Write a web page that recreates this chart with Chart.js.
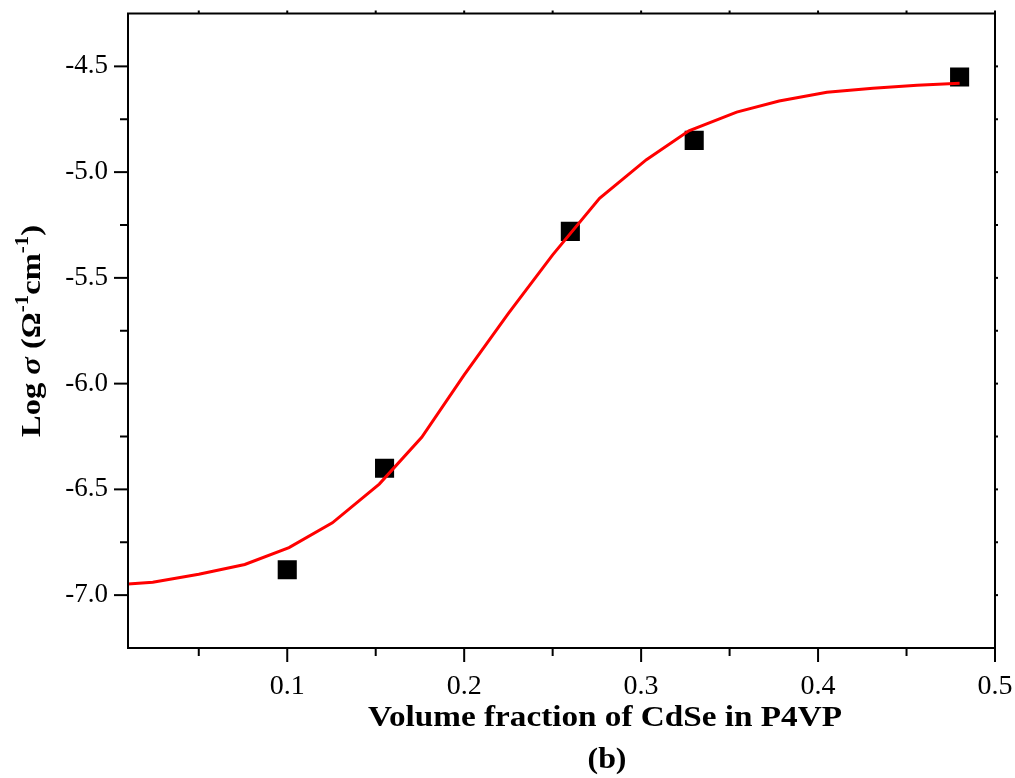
<!DOCTYPE html>
<html lang="en">
<head>
    <meta charset="UTF-8">
    <title>Log conductivity vs CdSe volume fraction</title>
    <style>
        body { margin: 0; background: #fff; }
    </style>
</head>
<body>
    <canvas id="myChart" width="1015" height="778"></canvas>
    <script src="https://cdn.jsdelivr.net/npm/chart.js"></script>
    <script>
        // measured points
        const fracX = [0.1, 0.155, 0.26, 0.33, 0.48];
        const logSigma = [-6.88, -6.40, -5.28, -4.85, -4.55];

        // fitted curve
        const fitX = [0.01, 0.024, 0.05, 0.076, 0.101, 0.1255, 0.152, 0.176, 0.2, 0.225, 0.25, 0.2765,
                      0.303, 0.327, 0.354, 0.378, 0.405, 0.431, 0.456, 0.48];
        const fitY = [-6.948, -6.939, -6.901, -6.855, -6.775, -6.658, -6.475, -6.254, -5.959, -5.668, -5.391, -5.124,
                      -4.941, -4.805, -4.716, -4.664, -4.622, -4.603, -4.589, -4.580];

        const xTicks = [0.1, 0.2, 0.3, 0.4, 0.5];
        const xMinor = [0.05, 0.15, 0.25, 0.35, 0.45];
        const yTicks = [-7.0, -6.5, -6.0, -5.5, -5.0, -4.5];
        const yMinor = [-6.75, -6.25, -5.75, -5.25, -4.75];

        const serif = '"Liberation Serif", "Times New Roman", serif';

        function seg(ctx, x1, y1, x2, y2) {
            ctx.beginPath();
            ctx.moveTo(x1, y1);
            ctx.lineTo(x2, y2);
            ctx.stroke();
        }

        // draw a run of text pieces centred on (cx, cy), stretched to a given width
        function textRun(ctx, parts, cx, cy, width, angle) {
            let total = 0;
            parts.forEach(p => { ctx.font = p.f; p.w = ctx.measureText(p.t).width; total += p.w; });
            ctx.save();
            ctx.translate(cx, cy);
            ctx.rotate(angle);
            ctx.scale(width / total, 1);
            ctx.textAlign = 'left';
            ctx.textBaseline = 'alphabetic';
            let x = -total / 2;
            parts.forEach(p => {
                ctx.font = p.f;
                ctx.fillText(p.t, x, p.dy || 0);
                x += p.w;
            });
            ctx.restore();
        }

        // box, tick marks and titles
        const frame = {
            id: 'frame',
            afterDraw(chart) {
                const ctx = chart.ctx;
                const a = chart.chartArea;
                const x = chart.scales.x, y = chart.scales.y;
                ctx.save();
                ctx.strokeStyle = '#000';
                ctx.lineWidth = 2;
                ctx.strokeRect(a.left, a.top, a.right - a.left, a.bottom - a.top);

                xTicks.forEach(v => {
                    const px = x.getPixelForValue(v);
                    seg(ctx, px, a.bottom, px, a.bottom + 14);
                    seg(ctx, px, a.top, px, a.top - 3);
                });
                xMinor.forEach(v => {
                    const px = x.getPixelForValue(v);
                    seg(ctx, px, a.bottom, px, a.bottom + 8);
                    seg(ctx, px, a.top, px, a.top - 3);
                });
                yTicks.forEach(v => {
                    const py = y.getPixelForValue(v);
                    seg(ctx, a.left, py, a.left - 14, py);
                    seg(ctx, a.right, py, a.right + 3, py);
                });
                yMinor.forEach(v => {
                    const py = y.getPixelForValue(v);
                    seg(ctx, a.left, py, a.left - 8, py);
                    seg(ctx, a.right, py, a.right + 3, py);
                });

                ctx.fillStyle = '#000';
                const bold = 'bold 29px ' + serif;
                textRun(ctx, [{ t: 'Volume fraction of CdSe in P4VP', f: bold }], 605, 726, 474, 0);
                textRun(ctx, [{ t: '(b)', f: bold }], 607, 768, 39, 0);

                // y title with italic sigma and superscripts
                const big = 'bold 28px ' + serif;
                const small = 'bold 18px ' + serif;
                textRun(ctx, [
                    { t: 'Log ', f: big },
                    { t: 'σ', f: 'italic ' + big },
                    { t: ' (Ω', f: big },
                    { t: '-1', f: small, dy: -12 },
                    { t: 'cm', f: big },
                    { t: '-1', f: small, dy: -12 },
                    { t: ')', f: big }
                ], 40, 331, 212, -Math.PI / 2);
                ctx.restore();
            }
        };

        const cfg = {
            type: 'scatter',
            data: {
                datasets: [
                    {
                        label: 'fit',
                        data: fitX.map((v, i) => ({ x: v, y: fitY[i] })),
                        showLine: true,
                        borderColor: '#ff0000',
                        borderWidth: 3,
                        pointRadius: 0,
                        tension: 0
                    },
                    {
                        label: 'data',
                        data: fracX.map((v, i) => ({ x: v, y: logSigma[i] })),
                        pointStyle: 'rect',
                        pointRadius: 13.5,
                        pointBackgroundColor: '#000',
                        pointBorderWidth: 0,
                        showLine: false
                    }
                ]
            },
            options: {
                responsive: false,
                animation: false,
                layout: { padding: { left: 0, top: 10, right: 20, bottom: 0 } },
                plugins: { legend: { display: false }, tooltip: { enabled: false } },
                scales: {
                    x: {
                        type: 'linear',
                        min: 0.01,
                        max: 0.5,
                        grid: { display: false, drawTicks: false },
                        border: { display: false },
                        afterBuildTicks: s => { s.ticks = xTicks.map(v => ({ value: v })); },
                        afterFit: s => { s.height = 130; s.paddingLeft = 0; s.paddingRight = 0; },
                        ticks: {
                            padding: 22,
                            color: '#000',
                            font: { family: serif, size: 28 },
                            callback: v => v.toFixed(1)
                        }
                    },
                    y: {
                        type: 'linear',
                        min: -7.25,
                        max: -4.25,
                        grid: { display: false, drawTicks: false },
                        border: { display: false },
                        afterBuildTicks: s => { s.ticks = yTicks.map(v => ({ value: v })); },
                        afterFit: s => { s.width = 128; s.paddingTop = 0; s.paddingBottom = 0; },
                        ticks: {
                            padding: 20,
                            color: '#000',
                            font: { family: serif, size: 27 },
                            callback: v => v.toFixed(1)
                        }
                    }
                }
            },
            plugins: [frame]
        };

        new Chart(document.getElementById('myChart').getContext('2d'), cfg);
    </script>
</body>
</html>
